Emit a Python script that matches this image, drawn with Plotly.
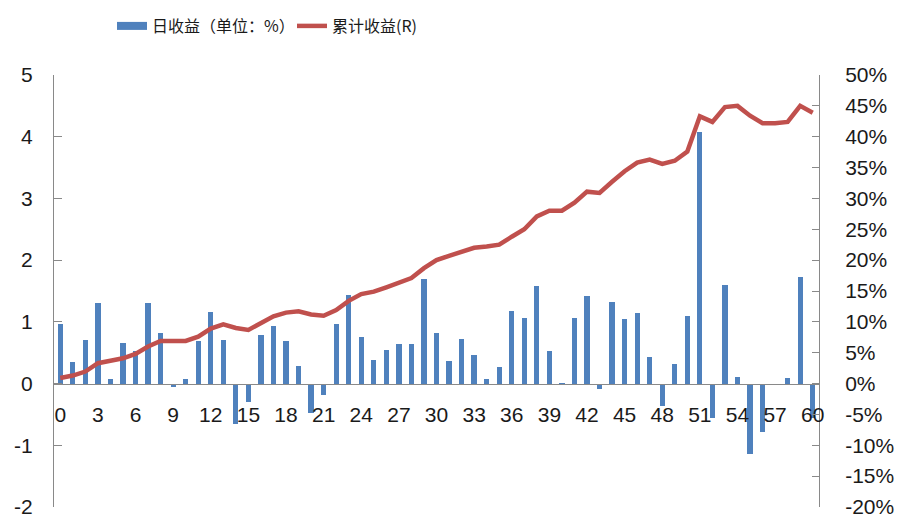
import plotly.graph_objects as go

# ---------------- data ----------------
days = list(range(61))
daily_return = [0.97, 0.35, 0.70, 1.30, 0.07, 0.66, 0.52, 1.30, 0.82, -0.05,
                0.07, 0.69, 1.16, 0.70, -0.65, -0.30, 0.78, 0.94, 0.69, 0.29,
                -0.48, -0.18, 0.96, 1.44, 0.76, 0.38, 0.54, 0.64, 0.64, 1.69,
                0.82, 0.37, 0.72, 0.46, 0.07, 0.27, 1.18, 1.06, 1.58, 0.53,
                -0.03, 1.06, 1.42, -0.09, 1.32, 1.04, 1.14, 0.43, -0.36, 0.32,
                1.10, 4.07, -0.56, 1.59, 0.11, -1.14, -0.78, 0.00, 0.09, 1.73,
                -0.55]
cum_return = [0.9, 1.3, 1.95, 3.3, 3.7, 4.1, 4.8, 6.0, 6.9, 6.9,
              6.9, 7.6, 8.9, 9.6, 9.0, 8.7, 9.8, 10.9, 11.5, 11.7,
              11.2, 11.0, 11.9, 13.4, 14.5, 14.9, 15.6, 16.3, 17.1, 18.7,
              20.0, 20.7, 21.4, 22.0, 22.2, 22.5, 23.8, 25.0, 27.1, 28.0,
              28.0, 29.3, 31.1, 30.9, 32.7, 34.4, 35.8, 36.3, 35.6, 36.1,
              37.6, 43.3, 42.4, 44.8, 45.0, 43.4, 42.2, 42.2, 42.4, 45.0,
              43.9]
x_ticks = list(range(0, 61, 3))
left_ticks = list(range(-2, 6))
left_labels = [str(v) for v in left_ticks]
right_ticks = list(range(-20, 55, 5))
right_labels = [f"{v}%" for v in right_ticks]
bar_name = "日收益（单位：%）"
line_name = "累计收益(R)"

# ---------------- style ----------------
BLUE = "#4F81BD"
RED = "#C0504D"
AXIS = "#898989"
TXT = "#1a1a1a"
FONT = "Liberation Sans"
CJK = "Noto Sans CJK SC"
W, H = 906, 522

fig = go.Figure()
fig.add_trace(go.Bar(x=days, y=daily_return, width=0.42,
                     marker=dict(color=BLUE, line=dict(width=0)),
                     showlegend=False, yaxis="y"))
fig.add_trace(go.Scatter(x=[None], y=[None], mode="lines", name=bar_name,
                         line=dict(color=BLUE, width=8), yaxis="y",
                         legend="legend"))
fig.add_trace(go.Scatter(x=days, y=cum_return, mode="lines", name=line_name,
                         line=dict(color=RED, width=4.5), yaxis="y2",
                         legend="legend2"))

legend_common = dict(orientation="h", xref="container", yref="container",
                     xanchor="left", yanchor="middle", y=1 - 26 / H,
                     font=dict(family=CJK, size=16, color=TXT),
                     bgcolor="rgba(0,0,0,0)", borderwidth=0)

fig.update_layout(
    width=W, height=H,
    margin=dict(l=54, r=87, t=75, b=15, autoexpand=False),
    paper_bgcolor="white", plot_bgcolor="white",
    font=dict(family=FONT, size=21, color=TXT),
    bargap=0,
    xaxis=dict(range=[-0.5, 60.5], tickmode="array", tickvals=x_ticks,
               showline=True, linecolor=AXIS, linewidth=1, ticks="",
               anchor="free", position=2 / 7, showgrid=False, zeroline=False,
               tickfont=dict(family=FONT, size=21, color=TXT),
               ticklabelstandoff=12, automargin=False),
    yaxis=dict(range=[-2, 5], tickmode="array", tickvals=left_ticks,
               ticktext=left_labels, showline=True, linecolor=AXIS,
               linewidth=1, ticks="inside", ticklen=8, tickcolor=AXIS,
               showgrid=False, zeroline=False,
               tickfont=dict(family=FONT, size=21, color=TXT),
               ticklabelstandoff=16, automargin=False),
    yaxis2=dict(range=[-20, 50], overlaying="y", side="right",
                tickmode="array", tickvals=right_ticks, ticktext=right_labels,
                showline=True, linecolor=AXIS, linewidth=1, ticks="inside",
                ticklen=7, tickcolor=AXIS, showgrid=False, zeroline=False,
                tickfont=dict(family=FONT, size=21, color=TXT),
                ticklabelstandoff=21, automargin=False),
    legend=dict(x=112 / W, **legend_common),
    legend2=dict(x=292 / W, **legend_common),
)

fig.write_html("out.html",
               config={"displayModeBar": False},
               post_script="document.body.style.margin='0';"
                           "document.body.style.padding='0';")
